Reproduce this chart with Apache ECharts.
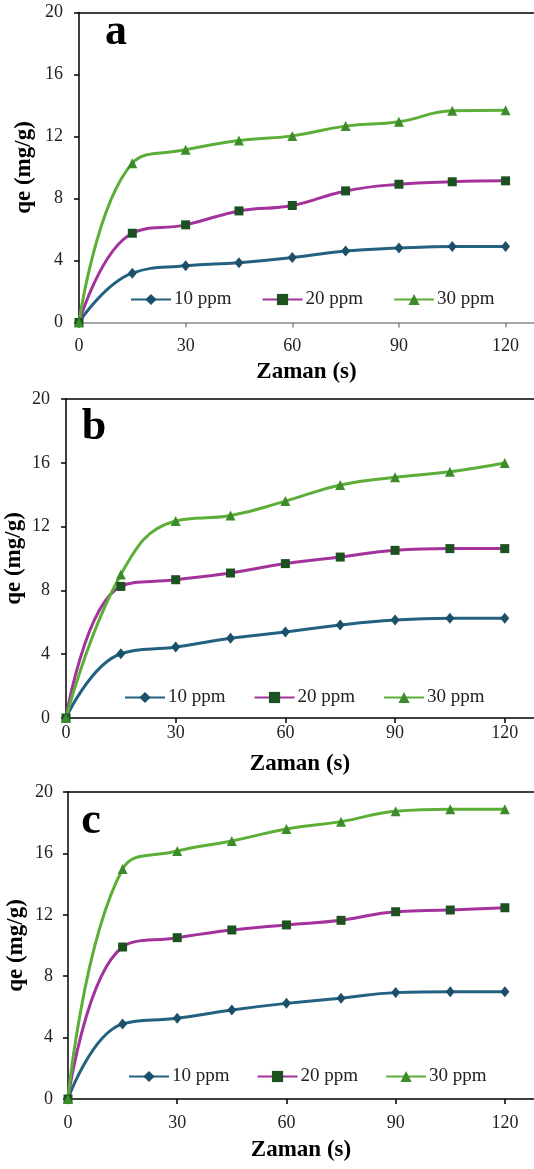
<!DOCTYPE html>
<html>
<head>
<meta charset="utf-8">
<script src="https://cdn.jsdelivr.net/npm/echarts@6/dist/echarts.min.js"></script>
<style>
  html, body { margin: 0; padding: 0; background: #fff; }
  #main { width: 534px; height: 1169px; }
</style>
</head>
<body>
<div id="main"></div>
<script>
// time points (s)
var times = [0, 15, 30, 45, 60, 75, 90, 105, 120];
var seriesNames = ['10 ppm', '20 ppm', '30 ppm'];
var panelLetters = ['a', 'b', 'c'];

// qe (mg/g)
var a10 = [0, 3.18, 3.66, 3.85, 4.19, 4.62, 4.80, 4.90, 4.90];
var a20 = [0, 5.76, 6.30, 7.20, 7.55, 8.49, 8.92, 9.08, 9.14];
var a30 = [0, 10.28, 11.14, 11.74, 12.04, 12.67, 12.95, 13.66, 13.70];

var b10 = [0, 4.03, 4.45, 5.00, 5.39, 5.83, 6.14, 6.25, 6.25];
var b20 = [0, 8.25, 8.67, 9.09, 9.68, 10.09, 10.51, 10.62, 10.62];
var b30 = [0, 9.00, 12.35, 12.69, 13.60, 14.61, 15.09, 15.44, 15.99];

var c10 = [0, 4.89, 5.26, 5.80, 6.23, 6.56, 6.93, 6.99, 6.99];
var c20 = [0, 9.90, 10.51, 11.01, 11.34, 11.64, 12.20, 12.31, 12.46];
var c30 = [0, 14.98, 16.16, 16.81, 17.59, 18.07, 18.74, 18.87, 18.87];

var panelData = [[a10, a20, a30], [b10, b20, b30], [c10, c20, c30]];

var lineColors = ['#22617f', '#a3329c', '#5cae38'];
var markerColors = ['#1c4f69', '#1b5220', '#3d8c2b'];
var markerShapes = ['diamond', 'rect', 'triangle'];
var markerSizes = [[9, 11], 9, 10];

var serif = '"Liberation Serif", "Times New Roman", serif';

var grids = [
  { left: 79, top: 12.5, width: 455, height: 310, outerBoundsMode: 'none' },
  { left: 66, top: 399, width: 468, height: 319, outerBoundsMode: 'none' },
  { left: 68, top: 792, width: 466, height: 307, outerBoundsMode: 'none' }
];
var xLabelMargin = [15, 6, 15];
var xNameGap = [38, 35, 40];
var yLabelMargin = [16, 16, 15];
var yNameGap = [43, 40, 40];
var bottomColor = ['#8a8a8a', '#000', '#000'];
var legendPos = [
  { left: 130, top: 290, itemGap: 30 },
  { left: 124, top: 688, itemGap: 28 },
  { left: 128, top: 1067, itemGap: 27 }
];
var letterPos = [[116, 33], [94, 428], [91, 822]];

var xAxes = [], yAxes = [], series = [], legends = [], graphics = [];

grids.forEach(function (g, i) {
  // bottom axis
  xAxes.push({
    type: 'value', gridIndex: i, min: 0, max: 128, interval: 30,
    name: 'Zaman (s)', nameLocation: 'middle', nameGap: xNameGap[i],
    nameMoveOverlap: false,
    nameTextStyle: { fontFamily: serif, fontWeight: 'bold', fontSize: 23, color: '#000' },
    axisLine: { lineStyle: { color: bottomColor[i], width: 1.5 } },
    axisTick: { show: true, length: 5, lineStyle: { color: bottomColor[i], width: 1.5 } },
    axisLabel: {
      margin: xLabelMargin[i], fontFamily: serif, fontSize: 18, color: '#222',
      showMaxLabel: false,
      formatter: function (v) { return v % 30 === 0 ? String(v) : ''; }
    },
    splitLine: { show: false }
  });
  // top border of plot frame
  xAxes.push({
    type: 'value', gridIndex: i, position: 'top', min: 0, max: 128,
    axisLine: { onZero: false, lineStyle: { color: '#000', width: 1.5 } },
    axisTick: { show: false }, axisLabel: { show: false }, splitLine: { show: false }
  });
  yAxes.push({
    type: 'value', gridIndex: i, min: 0, max: 20, interval: 4,
    name: 'qe (mg/g)', nameLocation: 'middle', nameGap: yNameGap[i],
    nameMoveOverlap: false,
    nameTextStyle: { fontFamily: serif, fontWeight: 'bold', fontSize: 23, color: '#000' },
    axisLine: { show: true, lineStyle: { color: '#000', width: 1.5 } },
    axisTick: { show: true, length: 5, lineStyle: { color: '#000', width: 1.5 } },
    axisLabel: { margin: yLabelMargin[i], fontFamily: serif, fontSize: 18, color: '#222' },
    splitLine: { show: false }
  });

  var names = [];
  panelData[i].forEach(function (vals, k) {
    var id = seriesNames[k] + ' #' + i;
    names.push(id);
    series.push({
      type: 'line', name: id,
      xAxisIndex: i * 2, yAxisIndex: i,
      data: times.map(function (t, j) { return [t, vals[j]]; }),
      smooth: 0.45,
      symbol: markerShapes[k], symbolSize: markerSizes[k],
      lineStyle: { color: lineColors[k], width: 3 },
      itemStyle: { color: markerColors[k] },
      emphasis: { disabled: true },
      clip: false
    });
  });

  legends.push({
    data: names,
    left: legendPos[i].left, top: legendPos[i].top,
    padding: 0,
    orient: 'horizontal', itemGap: legendPos[i].itemGap,
    itemWidth: 40, itemHeight: 14,
    selectedMode: false,
    formatter: function (n) { return n.split(' #')[0]; },
    textStyle: { fontFamily: serif, fontSize: 19, color: '#222', padding: [0, 0, 0, -2] }
  });

  graphics.push({
    type: 'text', x: letterPos[i][0], y: letterPos[i][1],
    style: {
      text: panelLetters[i], fill: '#000',
      font: 'bold 44px ' + serif,
      textAlign: 'center', textVerticalAlign: 'middle'
    }
  });
});

var chart = echarts.init(document.getElementById('main'), null, { renderer: 'canvas' });
chart.setOption({
  backgroundColor: '#fff',
  animation: false,
  grid: grids,
  xAxis: xAxes,
  yAxis: yAxes,
  legend: legends,
  series: series,
  graphic: graphics
});
</script>
</body>
</html>
